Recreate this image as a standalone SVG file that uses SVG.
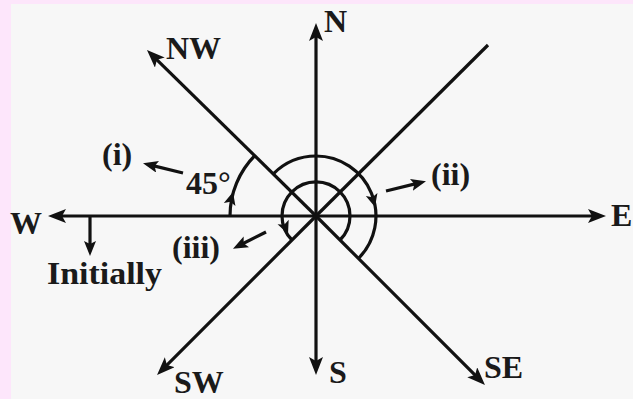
<svg xmlns="http://www.w3.org/2000/svg" width="633" height="399" viewBox="0 0 633 399">
<defs>
<style>
.ln{stroke:#111;stroke-width:3.2;fill:none}
.arc{stroke:#111;stroke-width:3.2;fill:none}
.lbl{font-family:"Liberation Serif","Times New Roman",serif;font-weight:bold;font-size:32px;fill:#1a1a1a}
.ah{fill:#111}
</style>
<marker id="big" markerUnits="userSpaceOnUse" markerWidth="20" markerHeight="16" refX="9" refY="7" orient="auto">
<path d="M0,0 L18,7 L0,14 L4,7 Z" fill="#111"/>
</marker>
<marker id="sm" markerUnits="userSpaceOnUse" markerWidth="18" markerHeight="14" refX="8" refY="6" orient="auto">
<path d="M0,0 L15,6 L0,12 L3,6 Z" fill="#111"/>
</marker>
<path id="tri" d="M0,0 L-13,-6 L-10,0 L-13,6 Z"/>
</defs>
<rect x="0" y="0" width="633" height="399" fill="#fde6fb"/>
<rect x="11" y="4" width="622" height="395" fill="#f7f7f7"/>
<g id="connectors">
<line class="ln" x1="316" y1="216" x2="316" y2="32" marker-end="url(#big)"/>
<line class="ln" x1="316" y1="216" x2="316" y2="366" marker-end="url(#big)"/>
<line class="ln" x1="316" y1="216" x2="597" y2="216" marker-end="url(#big)"/>
<line class="ln" x1="316" y1="216" x2="57" y2="216" marker-end="url(#big)"/>
<line class="ln" x1="316" y1="216" x2="153.4" y2="56.3" marker-end="url(#big)"/>
<line class="ln" x1="316" y1="216" x2="163.4" y2="368.6" marker-end="url(#big)"/>
<line class="ln" x1="316" y1="216" x2="478.6" y2="378.6" marker-end="url(#big)"/>
<line class="ln" x1="316" y1="216" x2="488" y2="45"/>
<path class="arc" d="M230,216 A86,86 0 0 1 255.2,155.2"/>
<path class="arc" d="M273.6,173.6 A60,60 0 0 1 316,156 A60,60 0 0 1 358.4,258.4"/>
<path class="arc" d="M340,240 A34,34 0 1 0 292,240"/>
<use href="#tri" class="ah" transform="translate(233,192) rotate(-75)"/>
<use href="#tri" class="ah" transform="translate(375,207) rotate(75)"/>
<use href="#tri" class="ah" transform="translate(288,234) rotate(68)"/>
<line class="ln" x1="183" y1="173" x2="149.8" y2="164.9" marker-end="url(#sm)"/>
<line class="ln" x1="266" y1="232" x2="239.2" y2="245.5" marker-end="url(#sm)"/>
<line class="ln" x1="386" y1="191" x2="419.2" y2="182.9" marker-end="url(#sm)"/>
<line class="ln" x1="90" y1="217" x2="90" y2="249" marker-end="url(#sm)"/>
</g>
<g id="N"><text class="lbl" x="324" y="32">N</text></g>
<g id="NW"><text class="lbl" x="166" y="59">NW</text></g>
<g id="W"><text class="lbl" x="10" y="234">W</text></g>
<g id="E"><text class="lbl" x="611" y="226">E</text></g>
<g id="S"><text class="lbl" x="329" y="383">S</text></g>
<g id="SW"><text class="lbl" x="174" y="393">SW</text></g>
<g id="SE"><text class="lbl" x="484" y="378">SE</text></g>
<g id="label-i"><text class="lbl" x="102" y="165">(i)</text></g>
<g id="label-45"><text class="lbl" x="186" y="194">45°</text></g>
<g id="label-ii"><text class="lbl" x="431" y="185">(ii)</text></g>
<g id="label-iii"><text class="lbl" x="172" y="258">(iii)</text></g>
<g id="label-initially"><text class="lbl" x="47" y="284" textLength="115" lengthAdjust="spacingAndGlyphs">Initially</text></g>
</svg>
